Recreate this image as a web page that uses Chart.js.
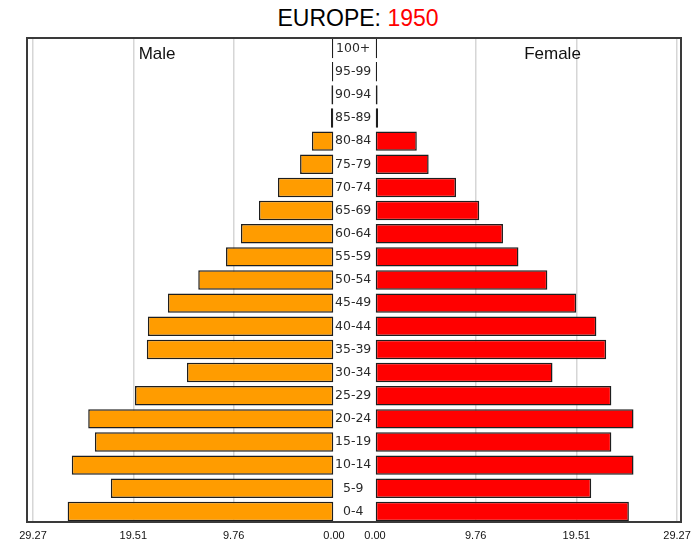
<!DOCTYPE html>
<html>
<head>
<meta charset="utf-8">
<script src="https://cdn.jsdelivr.net/npm/chart.js@4.4.1/dist/chart.umd.min.js"></script>
<style>
  body { margin: 0; width: 700px; height: 544px; background: #fff; position: relative; overflow: hidden; }
  #title { position: absolute; left: 8px; top: 5px; width: 700px; text-align: center;
           font: 23px "Liberation Sans", Arial, sans-serif; color: #000; }
  #title .year { color: #ff0000; }
  .box { position: absolute; top: 37px; height: 507px; }
  #leftBox { left: 0; width: 375px; }
  #rightBox { left: 345px; width: 355px; }
  #frame { position: absolute; left: 26px; top: 37px; width: 656px; height: 486px;
           box-sizing: border-box; border: 2px solid #3a3a3a; pointer-events: none; }
</style>
</head>
<body>
<div id="title">EUROPE: <span class="year">1950</span></div>
<div class="box" id="leftBox"><canvas id="maleChart"></canvas></div>
<div class="box" id="rightBox"><canvas id="femaleChart"></canvas></div>
<div id="frame"></div>
<script>
const ages = ['0-4', '5-9', '10-14', '15-19', '20-24', '25-29', '30-34', '35-39', '40-44', '45-49',
    '50-54', '55-59', '60-64', '65-69', '70-74', '75-79', '80-84', '85-89', '90-94', '95-99', '100+'];
const male = [25.9, 21.7, 25.5, 23.25, 23.9, 19.35, 14.3, 18.2, 18.1, 16.15,
    13.2, 10.5, 9.05, 7.3, 5.45, 3.3, 2.15, 0.3, 0.25, 0.2, 0.2];
const female = [24.6, 20.95, 25.05, 22.9, 25.05, 22.9, 17.2, 22.4, 21.45, 19.5,
    16.7, 13.9, 12.4, 10.1, 7.85, 5.2, 4.05, 0.3, 0.25, 0.2, 0.2];
const tickValues = [0, 9.757, 19.513, 29.27];

const labelFont = '"Liberation Sans", Arial, sans-serif';

// stop the axes from pushing the plot area inwards for overhanging labels
function noPad(s) {
    s.paddingLeft = 0;
    s.paddingRight = 0;
    s.paddingTop = 0;
    s.paddingBottom = 0;
}

function sideLabel(text) {
    return {
        id: 'sideLabel',
        afterDraw(chart) {
            const ctx = chart.ctx;
            ctx.save();
            ctx.font = '17px ' + labelFont;
            ctx.fillStyle = '#111';
            ctx.textAlign = 'center';
            ctx.textBaseline = 'middle';
            ctx.fillText(text, chart.scales.x.getPixelForValue(17.2), 17);
            ctx.restore();
        },
    };
}

function xAxis(max, reverse) {
    return {
        type: 'linear',
        min: 0,
        max: max,
        reverse: reverse,
        afterBuildTicks: (s) => { s.ticks = tickValues.map((v) => ({ value: v })); },
        afterFit: (s) => { s.height = 21; noPad(s); },
        border: { display: false },
        grid: {
            drawTicks: false,
            lineWidth: 1.5,
            color: (c) => (c.tick && c.tick.value === 0 ? 'rgba(0,0,0,0)' : '#d6d6d6'),
        },
        ticks: {
            padding: 6,
            color: '#111',
            font: { family: labelFont, size: 11 },
            callback: (v) => Number(v).toFixed(2),
        },
    };
}

function barSet(label, data, color) {
    return {
        label: label,
        data: data,
        backgroundColor: color,
        borderColor: '#1e1e1e',
        borderWidth: 1.5,
        borderSkipped: false,
        categoryPercentage: 1,
        barPercentage: 0.84,
    };
}

new Chart(document.getElementById('maleChart'), {
    type: 'bar',
    data: { labels: ages, datasets: [barSet('Male', male, '#ff9c00')] },
    options: {
        indexAxis: 'y',
        responsive: true,
        maintainAspectRatio: false,
        animation: false,
        layout: { autoPadding: false, padding: { left: 26, top: 0, right: 0, bottom: 0 } },
        plugins: { legend: { display: false }, tooltip: { enabled: false } },
        scales: {
            x: xAxis(29.95, true),
            y: {
                position: 'right',
                reverse: true,
                afterFit: (s) => { s.width = 41; noPad(s); },
                grid: { display: false, drawTicks: false, tickLength: 0 },
                border: { display: false },
                ticks: {
                    padding: 1,
                    crossAlign: 'center',
                    color: '#2a2a2a',
                    font: { family: '"DejaVu Sans", Verdana, sans-serif', size: 12.5 },
                },
            },
        },
    },
    plugins: [sideLabel('Male')],
});

new Chart(document.getElementById('femaleChart'), {
    type: 'bar',
    data: { labels: ages, datasets: [barSet('Female', female, '#ff0000')] },
    options: {
        indexAxis: 'y',
        responsive: true,
        maintainAspectRatio: false,
        animation: false,
        layout: { autoPadding: false, padding: { left: 30, top: 0, right: 19, bottom: 0 } },
        plugins: { legend: { display: false }, tooltip: { enabled: false } },
        scales: {
            x: xAxis(29.65, false),
            y: { display: false, reverse: true, afterFit: noPad },
        },
    },
    plugins: [sideLabel('Female')],
});
</script>
</body>
</html>
